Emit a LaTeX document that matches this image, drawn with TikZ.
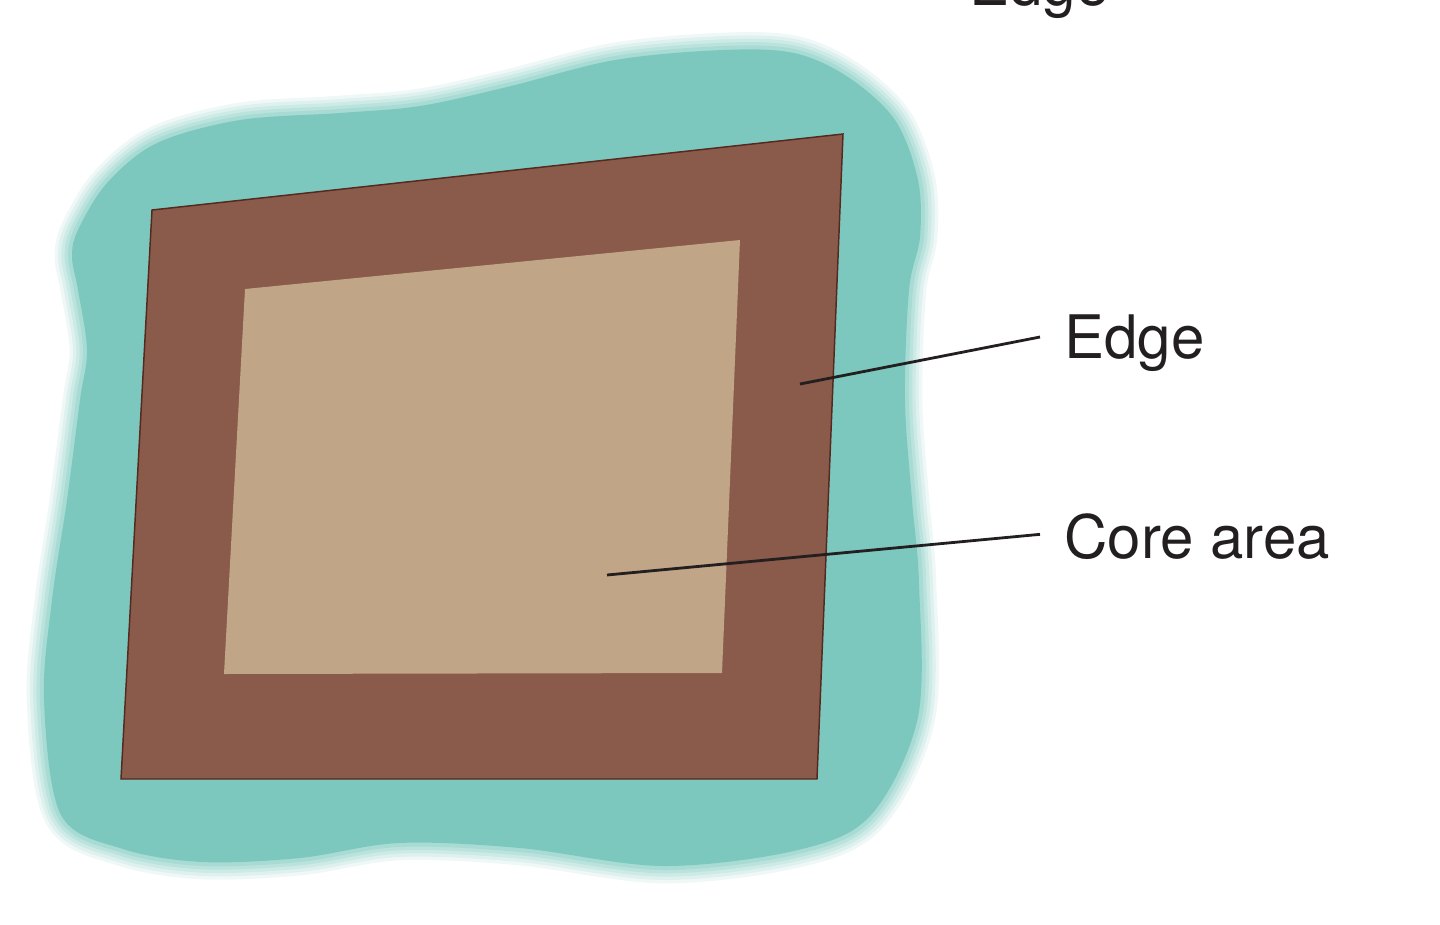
\documentclass[tikz,border=0pt]{standalone}
\usepackage{fontspec}
\setmainfont{TeX Gyre Heros}
\definecolor{pondteal}{HTML}{7CC8BE}
\definecolor{edgebrown}{HTML}{8A5A4A}
\definecolor{coretan}{HTML}{C0A586}
\definecolor{edgeline}{HTML}{55291F}
\definecolor{inkgray}{HTML}{231F20}
\tikzset{every picture/.style={line width=0.75pt}}

\begin{document}
\begin{tikzpicture}[x=0.75pt,y=0.75pt,yscale=-1,xscale=1,
  lbl/.style={inner xsep=18pt,inner ysep=0pt,text depth=0pt,text height=32.4pt,
    text=inkgray,font=\fontsize{45}{54}\selectfont},
  leader/.style={draw=inkgray,line width=2.1pt}]
\useasboundingbox (0,0) rectangle (1440,925);

%Shape: Blob, soft rim
\foreach \w/\o in {26/0.12,21/0.15,16/0.18,11/0.22,6/0.3}
  \draw [pondteal,opacity=\o,line width=\w pt] plot [smooth cycle,tension=0.55] coordinates {(157,143) (240,120) (340,113) (420,106) (507,87) (615,60) (723,50) (794,53) (848,77) (895,120) (918,180) (920,237) (909,290) (905,400) (912,500) (919,583) (918,717) (871,815) (798,850) (663,866) (520,848) (399,843) (300,858) (202,862) (123,849) (61,815) (44,700) (52,600) (67,500) (80,400) (87,350) (78,290) (72,257) (78,230) (107,183)};
%Shape: Blob
\fill [pondteal] plot [smooth cycle,tension=0.55] coordinates {(157,143) (240,120) (340,113) (420,106) (507,87) (615,60) (723,50) (794,53) (848,77) (895,120) (918,180) (920,237) (909,290) (905,400) (912,500) (919,583) (918,717) (871,815) (798,850) (663,866) (520,848) (399,843) (300,858) (202,862) (123,849) (61,815) (44,700) (52,600) (67,500) (80,400) (87,350) (78,290) (72,257) (78,230) (107,183)};

%Shape: Polygon [edge]
\draw [draw=edgeline,fill=edgebrown,line width=1.1pt] (152,210) -- (843,134) -- (817,779) -- (121,779) -- cycle ;
%Shape: Polygon [core]
\fill [coretan] (245,289) -- (740,240) -- (722,673) -- (224,674) -- cycle ;

% Text Node
\node (edgelbl) [lbl,anchor=west] at (1040,337) {Edge};
% Text Node
\node (corelbl) [lbl,anchor=west] at (1040,537) {Core area};
% Text Node
\node (toplbl) [lbl,inner xsep=0pt,anchor=base west] at (969,5) {Edge};

%Straight Lines
\coordinate (edgein) at (800,384);
\coordinate (corein) at (607,575);
\draw [leader] (edgein) -- (edgelbl.west) ;
\draw [leader] (corein) -- ([yshift=-2]corelbl.west) ;

\end{tikzpicture}
\end{document}
